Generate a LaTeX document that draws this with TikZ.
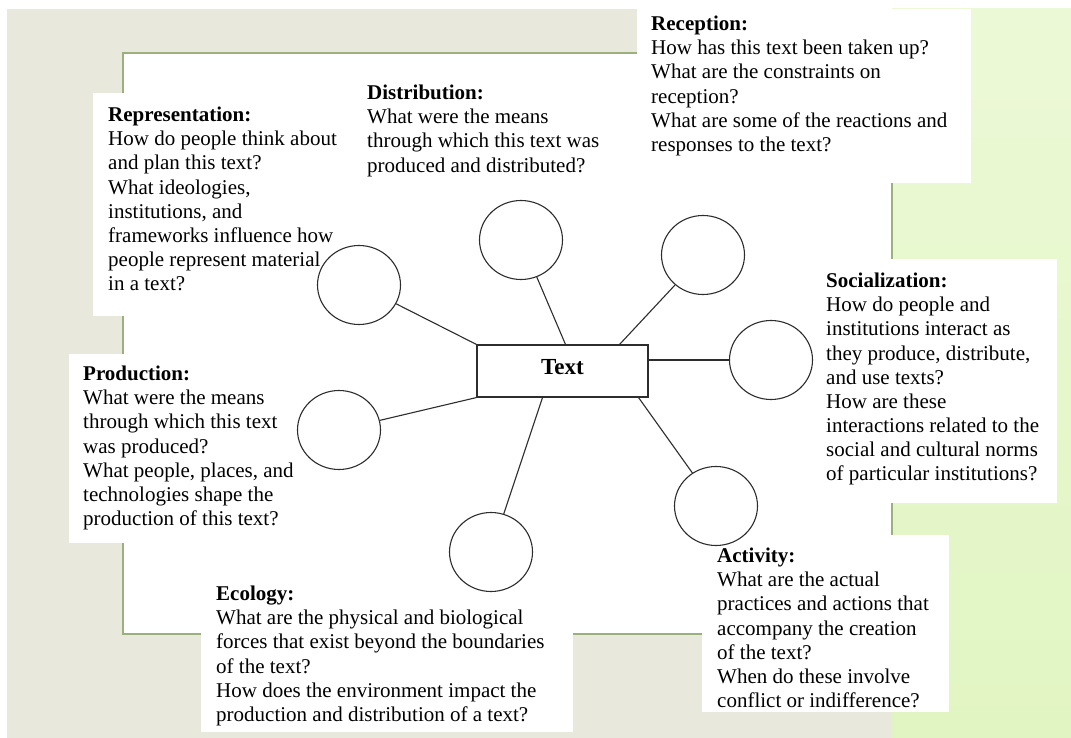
\documentclass[tikz,border=0pt]{standalone}
\usepackage{fontspec}
\setmainfont{Liberation Serif}
\usetikzlibrary{shapes.geometric}
\definecolor{greige}{RGB}{232,232,221}
\definecolor{sage}{RGB}{155,176,126}
\definecolor{mintA}{RGB}{236,249,214}
\definecolor{mintB}{RGB}{225,245,194}
\definecolor{ink}{RGB}{45,45,45}

\begin{document}
\begin{tikzpicture}[x=1pt,y=-1pt,
  prompt/.style={anchor=north west, inner sep=0pt, align=left, font=\fontsize{21}{24.1}\selectfont},
  bubble/.style={draw=ink, line width=1.1pt, ellipse, minimum width=83pt, minimum height=79pt, inner sep=0pt},
  spoke/.style={draw=ink, line width=1.1pt},
  panel/.style={fill=white}]
\useasboundingbox (0,0) rectangle (1071,738);

\fill[greige] (7,9) rectangle (1071,738);
\shade[top color=mintA, bottom color=mintB] (892,9) rectangle (1071,738);
\filldraw[fill=white, draw=sage, line width=1.5pt] (123,53) rectangle (892,634);

\fill[panel] (637,9) rectangle (971,183);
\fill[panel] (93,93) rectangle (345,316);
\fill[panel] (812,259) rectangle (1057,503);
\fill[panel] (69,354) rectangle (300,543);
\fill[panel] (201,570) rectangle (573,732);
\fill[panel] (702,535) rectangle (949,712);

\node[prompt] (recq) at (651,16) {\textbf{Reception:}\\How has this text been taken up?\\What are the constraints on\\reception?\\What are some of the reactions and\\responses to the text?};
\node[prompt] (disq) at (367,85) {\textbf{Distribution:}\\What were the means\\through which this text was\\produced and distributed?};
\node[prompt] (repq) at (108,107) {\textbf{Representation:}\\How do people think about\\and plan this text?\\What ideologies,\\institutions, and\\frameworks influence how\\people represent material\\in a text?};
\node[prompt] (socq) at (826,273) {\textbf{Socialization:}\\How do people and\\institutions interact as\\they produce, distribute,\\and use texts?\\How are these\\interactions related to the\\social and cultural norms\\of particular institutions?};
\node[prompt] (proq) at (83,366) {\textbf{Production:}\\What were the means\\through which this text\\was produced?\\What people, places, and\\technologies shape the\\production of this text?};
\node[prompt] (ecoq) at (216,586) {\textbf{Ecology:}\\What are the physical and biological\\forces that exist beyond the boundaries\\of the text?\\How does the environment impact the\\production and distribution of a text?};
\node[prompt] (actq) at (717,548) {\textbf{Activity:}\\What are the actual\\practices and actions that\\accompany the creation\\of the text?\\When do these involve\\conflict or indifference?};

\node[draw=ink, line width=1.1pt, minimum width=171pt, minimum height=52pt, inner sep=0pt, text depth=8pt, font=\bfseries\fontsize{23}{27}\selectfont] (txt) at (562.5,371) {Text};

\node[bubble] (rep) at (359,285) {};
\node[bubble] (dis) at (521,240) {};
\node[bubble] (rec) at (703,255) {};
\node[bubble] (soc) at (771,360) {};
\node[bubble] (pro) at (339,430) {};
\node[bubble] (eco) at (491,552) {};
\node[bubble] (act) at (716,506) {};

\draw[spoke] (txt.north west) -- (rep);
\draw[spoke] ([xshift=3pt]txt.north) -- (dis);
\draw[spoke] ([xshift=-29pt]txt.north east) -- (rec);
\draw[spoke] ([yshift=11pt]txt.east) -- (soc);
\draw[spoke] (txt.south west) -- (pro);
\draw[spoke] ([xshift=-20pt]txt.south) -- (eco);
\draw[spoke] ([xshift=-10pt]txt.south east) -- (act);
\end{tikzpicture}
\end{document}
